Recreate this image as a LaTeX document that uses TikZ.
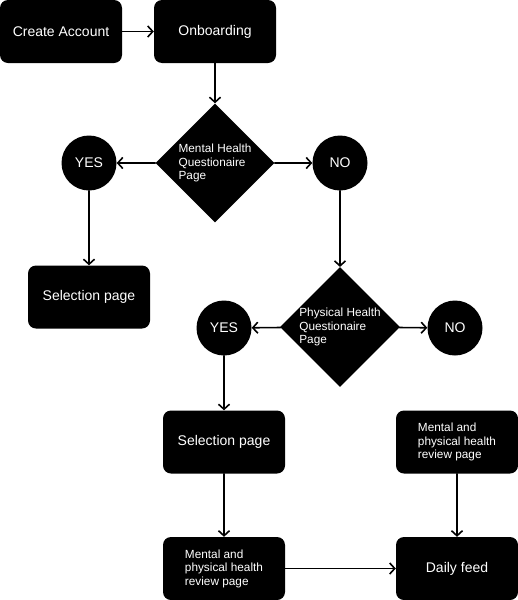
\documentclass[tikz,border=0pt]{standalone}
\usepackage{fontspec}
\setmainfont{Liberation Sans}
\usetikzlibrary{arrows.meta,shapes.geometric}
\tikzset{
  every picture/.style={line join=round, line cap=round, >={Straight Barb[length=5pt,width=11pt]}},
  box/.style={fill=black, rounded corners=8pt, minimum width=122pt, minimum height=63pt, text=white, font=\fontsize{14}{16}\selectfont},
  smallbox/.style={box, align=left, font=\fontsize{11.8}{13.5}\selectfont},
  decision/.style={diamond, fill=black, minimum width=119pt, minimum height=119pt, inner sep=0pt, text=white, align=left, font=\fontsize{11.8}{13.7}\selectfont},
  answer/.style={circle, fill=black, minimum size=55pt, inner sep=0pt, text=white, font=\fontsize{14}{16}\selectfont},
  link/.style={->, line width=1.6pt},
}
\begin{document}
\begin{tikzpicture}[x=1pt,y=-1pt]
\useasboundingbox (0,0) rectangle (518,600);
% top row
\node[box] (create) at (61,31.5) {Create Account};
\node[box] (onboard) at (215,31.5) {Onboarding};
% mental health question
\node[decision] (mental) at (215,163) {Mental Health\\Questionaire\\Page};
\node[answer] (yesA) at (89,163) {YES};
\node[answer] (noA) at (340,163) {NO};
\node[box] (selA) at (89,297) {Selection page};
% physical health question
\node[decision] (physical) at (340,327) {Physical Health\\Questionaire\\Page};
\node[answer] (yesB) at (224,328) {YES};
\node[answer] (noB) at (455,328) {NO};
% lower part
\node[box] (selB) at (224,442) {Selection page};
\node[smallbox] (reviewA) at (224,568.5) {Mental and\\physical health\\review page};
\node[smallbox] (reviewB) at (457,442) {Mental and\\physical health\\review page};
\node[box] (feed) at (457,568.5) {Daily feed};
% connectors
\draw[link] (create) -- (onboard);
\draw[link] (onboard) -- (mental);
\draw[link] (mental) -- (yesA);
\draw[link] (mental) -- (noA);
\draw[link] (yesA) -- (selA);
\draw[link] (noA) -- (physical);
\draw[link] (physical) -- (yesB);
\draw[link] (physical) -- (noB);
\draw[link] (yesB) -- (selB);
\draw[link] (selB) -- (reviewA);
\draw[link] (reviewA) -- (feed);
\draw[link] (reviewB) -- (feed);
\end{tikzpicture}
\end{document}
